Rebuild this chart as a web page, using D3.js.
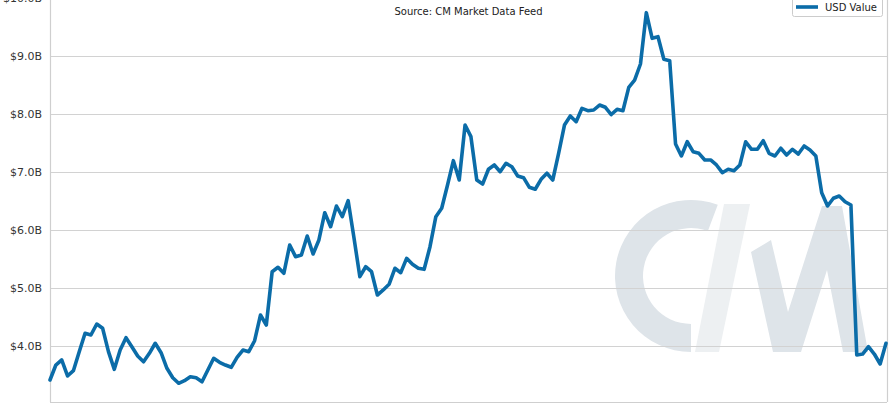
<!DOCTYPE html>
<html>
<head>
<meta charset="utf-8">
<script src="https://cdn.jsdelivr.net/npm/d3@7"></script>
<style>
  html, body { margin: 0; padding: 0; background: #fff; }
  svg { display: block; font-family: "DejaVu Sans", sans-serif; }
</style>
</head>
<body>
<svg id="chart" width="893" height="409"></svg>
<script>
// ---- data (USD value, billions, weekly) ----
const values = [
  3.414, 3.672, 3.759, 3.483, 3.574, 3.902, 4.219, 4.190, 4.379, 4.305,
  3.902, 3.598, 3.931, 4.143, 3.988, 3.828, 3.729, 3.874, 4.047, 3.884,
  3.616, 3.453, 3.357, 3.402, 3.471, 3.453, 3.384, 3.586, 3.788, 3.719,
  3.672, 3.633, 3.805, 3.931, 3.902, 4.091, 4.534, 4.362, 5.281, 5.357,
  5.253, 5.741, 5.540, 5.569, 5.897, 5.586, 5.828, 6.298, 6.057, 6.414,
  6.229, 6.505, 5.862, 5.195, 5.367, 5.281, 4.879, 4.966, 5.064, 5.340,
  5.264, 5.512, 5.409, 5.340, 5.322, 5.712, 6.229, 6.374, 6.776, 7.195,
  6.862, 7.810, 7.609, 6.862, 6.793, 7.047, 7.121, 7.005, 7.150, 7.091,
  6.931, 6.902, 6.736, 6.702, 6.874, 6.978, 6.862, 7.322, 7.810, 7.966,
  7.867, 8.098, 8.057, 8.069, 8.155, 8.116, 7.991, 8.081, 8.057, 8.460,
  8.586, 8.862, 9.747, 9.305, 9.333, 8.943, 8.919, 7.483, 7.276, 7.522,
  7.350, 7.322, 7.207, 7.207, 7.121, 6.988, 7.047, 7.022, 7.121, 7.522,
  7.391, 7.391, 7.540, 7.322, 7.276, 7.409, 7.293, 7.391, 7.310, 7.448,
  7.379, 7.276, 6.643, 6.414, 6.547, 6.586, 6.488, 6.431, 3.845, 3.862,
  3.988, 3.862, 3.690, 4.047
];
const yTicks = [4, 5, 6, 7, 8, 9, 10];
const xTickIndex = [25, 55, 85, 115];
const xTickLabels = ["2017-07", "2018-01", "2018-07", "2019-01"];
const seriesName = "USD Value";
const sourceText = "Source: CM Market Data Feed";

// ---- layout ----
const svg = d3.select("#chart");
const plot = { left: 50, right: 887, top: -30, bottom: 402 };

const x = d3.scaleLinear().domain([0, values.length - 1]).range([plot.left, plot.right - 1]);
const y = d3.scaleLinear().domain([3.0345, 10]).range([plot.bottom, -2]);

// watermark (decorative logo)
const wm = svg.append("g").attr("class", "watermark");
wm.append("path")
  .attr("d", d3.arc()({ innerRadius: 48, outerRadius: 76, startAngle: Math.PI, endAngle: 2 * Math.PI + 0.36 }))
  .attr("transform", "translate(691,276)")
  .attr("fill", "#dee4e9");
wm.append("polygon")
  .attr("points", "724,204 750,204 719,352 695,352")
  .attr("fill", "#edf0f2");
wm.append("polygon")
  .attr("points", "751,252 771,240 788,312 822,206 842,206 868,352 843,352 827,270 801,352 773,352")
  .attr("fill", "#dee4e9");

// gridlines
svg.append("g").selectAll("line").data(yTicks).join("line")
  .attr("x1", plot.left).attr("x2", plot.right)
  .attr("y1", d => Math.round(y(d)) + 0.5).attr("y2", d => Math.round(y(d)) + 0.5)
  .attr("stroke", "#d2d2d2").attr("stroke-width", 1);

// spines
const spine = svg.append("g").attr("stroke", "#cfcfcf").attr("stroke-width", 1.2);
spine.append("line").attr("x1", plot.left + 0.5).attr("x2", plot.left + 0.5).attr("y1", plot.top).attr("y2", plot.bottom);
spine.append("line").attr("x1", plot.right + 0.5).attr("x2", plot.right + 0.5).attr("y1", plot.top).attr("y2", plot.bottom);
spine.append("line").attr("x1", plot.left).attr("x2", plot.right).attr("y1", plot.bottom + 0.5).attr("y2", plot.bottom + 0.5);

// y axis labels
const yAxis = d3.axisLeft(y).tickValues(yTicks).tickSize(0).tickPadding(8)
  .tickFormat(d => "$" + d3.format(".1f")(d) + "B");
const gy = svg.append("g").attr("transform", `translate(${plot.left},0)`).call(yAxis);
gy.select(".domain").remove();
gy.selectAll("text").attr("font-size", 11).attr("fill", "#333").attr("font-family", "DejaVu Sans, sans-serif");

// x axis labels (mostly below the visible frame)
const xAxis = d3.axisBottom(x).tickValues(xTickIndex).tickSize(0).tickPadding(9)
  .tickFormat((d, i) => xTickLabels[i]);
const gx = svg.append("g").attr("transform", `translate(0,${plot.bottom})`).call(xAxis);
gx.select(".domain").remove();
gx.selectAll("text").attr("font-size", 11).attr("fill", "#555").attr("font-family", "DejaVu Sans, sans-serif");

// line
const line = d3.line().x((d, i) => x(i)).y(d => y(d));
svg.append("path").datum(values)
  .attr("d", line)
  .attr("fill", "none")
  .attr("stroke", "#0b6ca8")
  .attr("stroke-width", 3.6)
  .attr("stroke-linejoin", "round")
  .attr("stroke-linecap", "round");

// source text
svg.append("text")
  .attr("x", (plot.left + plot.right) / 2).attr("y", 15)
  .attr("text-anchor", "middle").attr("font-size", 10).attr("fill", "#222")
  .text(sourceText);

// legend
const lg = svg.append("g");
lg.append("rect").attr("x", 792.5).attr("y", -6.5).attr("width", 90).attr("height", 23).attr("rx", 2)
  .attr("fill", "#fff").attr("stroke", "#cccccc");
lg.append("line").attr("x1", 796).attr("x2", 818).attr("y1", 7).attr("y2", 7)
  .attr("stroke", "#0b6ca8").attr("stroke-width", 3.6);
lg.append("text").attr("x", 825).attr("y", 11).attr("font-size", 10).attr("fill", "#222").text(seriesName);
</script>
</body>
</html>
